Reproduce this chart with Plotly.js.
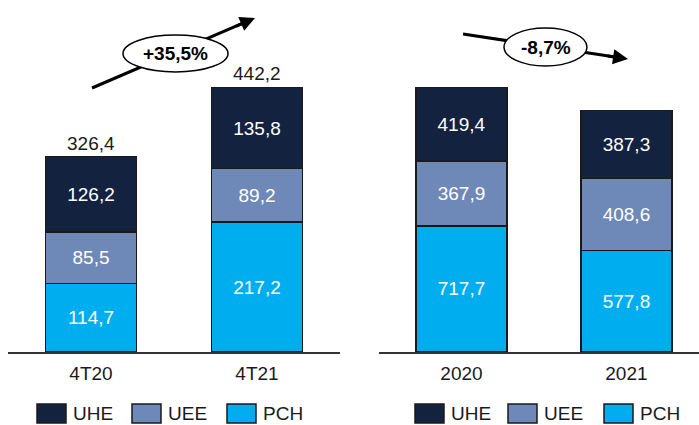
<!DOCTYPE html>
<html>
<head>
<meta charset="utf-8">
<script src="https://cdn.plot.ly/plotly-3.0.1.min.js"></script>
<style>html,body{margin:0;padding:0;background:#fff;}#chart{width:699px;height:425px;}</style>
</head>
<body>
<div id="chart"></div>
<script>
// ---- data ----
const seriesNames = ['PCH', 'UEE', 'UHE'];
const quarterCats = ['4T20', '4T21'];
const quarterPCH = [114.7, 217.2];
const quarterUEE = [85.5, 89.2];
const quarterUHE = [126.2, 135.8];
const quarterTotals = [326.4, 442.2];
const yearCats = ['2020', '2021'];
const yearPCH = [717.7, 577.8];
const yearUEE = [367.9, 408.6];
const yearUHE = [419.4, 387.3];
const yearTotals = [1505.1, 1373.7];
const changeLabels = ['+35,5%', '-8,7%'];

// ---- style ----
const colors = {PCH: '#00AEEF', UEE: '#6E89B8', UHE: '#13233F'};
const FONT = 'Liberation Sans, Arial, sans-serif';
const W = 699, H = 425;
const px = x => x / W;
const py = y => 1 - y / H;
const fill = 0.797; // fraction of plot height used by tallest bar

function makeTraces(cats, vals, xa, ya) {
  return seriesNames.map((name, i) => ({
    type: 'bar', name: name, x: cats, y: vals[i], xaxis: xa, yaxis: ya,
    width: 0.55,
    marker: {color: colors[name], line: {color: '#1a1a1a', width: 1.5}},
    texttemplate: '%{y:.1f}', textposition: 'inside', insidetextanchor: 'middle',
    textfont: {family: FONT, size: 19, color: '#ffffff'},
    hoverinfo: 'skip', showlegend: false, cliponaxis: false
  }));
}

const data = [
  ...makeTraces(quarterCats, [quarterPCH, quarterUEE, quarterUHE], 'x', 'y'),
  ...makeTraces(yearCats, [yearPCH, yearUEE, yearUHE], 'x2', 'y2')
];

function fmt(v) {
  const parts = v.toFixed(1).split('.');
  parts[0] = parts[0].replace(/\B(?=(\d{3})+(?!\d))/g, '.');
  return parts[0] + ',' + parts[1];
}
const annotations = [];
quarterCats.forEach((c, i) => annotations.push({
  xref: 'x', yref: 'y', x: c, y: quarterTotals[i], text: fmt(quarterTotals[i]),
  showarrow: false, xanchor: 'center', yanchor: 'bottom', yshift: 1,
  font: {family: FONT, size: 19, color: '#1a1a1a'}
}));
yearCats.forEach((c, i) => annotations.push({
  xref: 'x2', yref: 'y2', x: c, y: yearTotals[i], text: fmt(yearTotals[i]),
  showarrow: false, xanchor: 'center', yanchor: 'bottom', yshift: 1,
  font: {family: FONT, size: 19, color: '#1a1a1a'}
}));

// growth arrows (pixel geometry)
const arrows = [
  {start: [92, 88], tip: [255, 18], ell: [123, 35, 228, 72]},
  {start: [463, 34], tip: [628, 59], ell: [504, 28, 587, 66]}
];
const shapes = [];
arrows.forEach((a, i) => {
  const dx = a.tip[0] - a.start[0], dy = a.tip[1] - a.start[1];
  const L = Math.hypot(dx, dy);
  shapes.push({type: 'line', xref: 'paper', yref: 'paper', layer: 'above',
    x0: px(a.start[0]), y0: py(a.start[1]),
    x1: px(a.tip[0] - dx / L * 8), y1: py(a.tip[1] - dy / L * 8),
    line: {color: '#000', width: 3}});
  shapes.push({type: 'circle', xref: 'paper', yref: 'paper', layer: 'above',
    x0: px(a.ell[0]), y0: py(a.ell[3]), x1: px(a.ell[2]), y1: py(a.ell[1]),
    fillcolor: '#ffffff', line: {color: '#000', width: 1.5}});
  annotations.push({xref: 'paper', yref: 'paper', x: px(a.tip[0]), y: py(a.tip[1]),
    ax: -dx / L * 22, ay: -dy / L * 22, text: '', showarrow: true,
    arrowhead: 2, arrowsize: 1, arrowwidth: 3, arrowcolor: '#000'});
  annotations.push({xref: 'paper', yref: 'paper',
    x: px((a.ell[0] + a.ell[2]) / 2), y: py((a.ell[1] + a.ell[3]) / 2),
    xanchor: 'center', yanchor: 'middle',
    text: '<b>' + changeLabels[i] + '</b>', showarrow: false,
    font: {family: FONT, size: 19, color: '#000'}});
});

// manual legends
const legendOrder = ['UHE', 'UEE', 'PCH'];
const legendX = [[37, 132, 227], [415, 508, 604]];
legendX.forEach(row => row.forEach((x0, k) => {
  const name = legendOrder[k];
  shapes.push({type: 'rect', xref: 'paper', yref: 'paper',
    x0: px(x0), x1: px(x0 + 29), y0: py(423), y1: py(404),
    fillcolor: colors[name], line: {color: '#1a1a1a', width: 1.5}});
  annotations.push({xref: 'paper', yref: 'paper', x: px(x0 + 34), y: py(413.5),
    xanchor: 'left', yanchor: 'middle', text: name, showarrow: false,
    font: {family: FONT, size: 19, color: '#1a1a1a'}});
}));

const yDomain = [py(352), py(20)];
const xCommon = {type: 'category', showline: true, linecolor: '#333', linewidth: 2,
  ticks: '', showgrid: false, zeroline: false, fixedrange: true,
  tickfont: {family: FONT, size: 19, color: '#1a1a1a'}, ticklabelstandoff: 3};
const yCommon = {visible: false, showgrid: false, zeroline: false, fixedrange: true, domain: yDomain};

const layout = {
  width: W, height: H, margin: {l: 0, r: 0, t: 0, b: 0},
  paper_bgcolor: '#fff', plot_bgcolor: 'rgba(0,0,0,0)',
  barmode: 'stack', separators: ',.', showlegend: false,
  font: {family: FONT, size: 19, color: '#1a1a1a'},
  xaxis: Object.assign({}, xCommon, {domain: [px(8), px(340)], range: [-0.5, 1.5], anchor: 'y'}),
  xaxis2: Object.assign({}, xCommon, {domain: [px(379), 1], range: [-0.5, 1.44], anchor: 'y2'}),
  yaxis: Object.assign({}, yCommon, {range: [0, Math.max(...quarterTotals) / fill], anchor: 'x'}),
  yaxis2: Object.assign({}, yCommon, {range: [0, Math.max(...yearTotals) / fill], anchor: 'x2'}),
  annotations: annotations, shapes: shapes
};

Plotly.newPlot('chart', data, layout, {staticPlot: true, displayModeBar: false});
</script>
</body>
</html>
